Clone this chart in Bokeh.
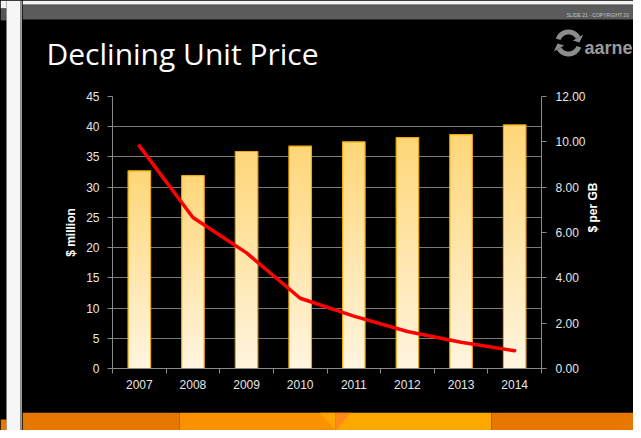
import math
import numpy as np
from bokeh.plotting import figure
from bokeh.layouts import row, column
from bokeh.models import Range1d, LinearAxis, FixedTicker, NumeralTickFormatter
from bokeh.core.properties import value
from bokeh.embed import file_html
from bokeh.resources import INLINE

# ---------------- data ----------------
years = [2007, 2008, 2009, 2010, 2011, 2012, 2013, 2014]
year_labels = ["2007", "2008", "2009", "2010", "2011", "2012", "2013", "2014"]
spend_million = [32.7, 31.9, 35.9, 36.8, 37.5, 38.2, 38.7, 40.3]
price_per_gb = [9.82, 6.66, 5.10, 3.10, 2.31, 1.63, 1.16, 0.78]
left_ticks = [0, 5, 10, 15, 20, 25, 30, 35, 40, 45]
right_ticks = [0, 2, 4, 6, 8, 10, 12]
title_text = "Declining Unit Price"
left_label = "$ million"
right_label = "$ per GB"
logo_text = "aarne"
footer_note = "SLIDE 21 - COPYRIGHT 20"

FONT = "Liberation Sans"
W, H = 633, 430
STRIP_W = 22
COL_W = W - STRIP_W
HEAD_H, MAIN_H, FOOT_H = 86, 326, 18


def deco(w, h):
    f = figure(width=w, height=h, output_backend="svg", toolbar_location=None,
               x_range=Range1d(0, w), y_range=Range1d(h, 0),
               x_axis_location=None, y_axis_location=None,
               min_border=0, min_border_left=0, min_border_right=0,
               min_border_top=0, min_border_bottom=0,
               outline_line_color=None, background_fill_color="black",
               border_fill_color="black", frame_align=False)
    f.xgrid.visible = False
    f.ygrid.visible = False
    return f


# ---------------- left window strip ----------------
strip = deco(STRIP_W, H)
strip.quad(left=[0, 0, 0, 6, 20], right=[6, 6, 6, 20, 22],
           top=[0, 8, 419, 0, 0], bottom=[8, 20, H, H, H],
           fill_color=["#f2f2f2", "#555555", "#e87700", "#f6f6f6", "#9c9c9c"],
           line_color=None)

# ---------------- header ----------------
head = deco(COL_W, HEAD_H)
head.quad(left=[0, 0, 0], right=[COL_W, COL_W, COL_W], top=[0, 4, 5], bottom=[4, 5, 19],
          fill_color=["#f2f2f2", "#a8a8a8", "#5b5b5b"], line_color=None)
head.text(x=[24], y=[53], text=[title_text], text_color="white",
          text_font=value("Open Sans"), text_font_size="30px",
          text_baseline="alphabetic")
# logo icon: two circling arrows
cx, cy, r_in, r_out = 546, 42.5, 8.5, 13.5
xs_icon, ys_icon = [], []
for a0, a1 in [(200, 330), (20, 150)]:
    ang = np.radians(np.linspace(a0, a1, 24))
    px = list(cx + r_out * np.cos(ang)) + list(cx + r_in * np.cos(ang[::-1]))
    py = list(cy + r_out * np.sin(ang)) + list(cy + r_in * np.sin(ang[::-1]))
    xs_icon.append(px)
    ys_icon.append(py)
    e = math.radians(a1)
    tip = math.radians(a1 + 28)
    rm = (r_in + r_out) / 2
    xs_icon.append([cx + (r_out + 3.5) * math.cos(e), cx + (r_in - 3.5) * math.cos(e),
                    cx + rm * math.cos(tip)])
    ys_icon.append([cy + (r_out + 3.5) * math.sin(e), cy + (r_in - 3.5) * math.sin(e),
                    cy + rm * math.sin(tip)])
head.patches(xs_icon, ys_icon, fill_color="#8c8c8c", line_color=None)
head.text(x=[562], y=[47], text=[logo_text], text_color="#9a9a9a",
          text_font=value("Liberation Sans"), text_font_size="18px",
          text_font_style="bold", text_baseline="alphabetic")
head.text(x=[544], y=[14], text=[footer_note], text_color="#c4c4c4",
          text_font=value("Liberation Sans"), text_font_size="5px",
          text_baseline="alphabetic")

# ---------------- footer ----------------
foot = deco(COL_W, FOOT_H)
foot.quad(left=[0, 157, 313, 469], right=[157, 313, 469, COL_W],
          top=[0, 0, 0, 0], bottom=[FOOT_H] * 4,
          fill_color=["#e67800", "#fa9200", "#ffa800", "#e87700"], line_color=None)
foot.patches([[297, 313, 313], [313.5, 328.5, 313.5]], [[0, 0, 18], [0, 0, 18]],
             fill_color=["#ffa600", "#ff8a1a"], line_color=None)

# ---------------- main chart ----------------
p = figure(width=COL_W, height=MAIN_H, output_backend="svg", toolbar_location=None,
           x_range=Range1d(2006.5, 2014.5), y_range=Range1d(0, 45),
           min_border_left=90, min_border_right=92, min_border_top=10,
           min_border_bottom=44, background_fill_color="black",
           border_fill_color="black", outline_line_color=None, frame_align=False)
p.extra_y_ranges = {"price": Range1d(0, 12)}

p.xgrid.visible = False
p.ygrid.ticker = FixedTicker(ticks=left_ticks)
p.ygrid.grid_line_color = "#7a7a7a"
p.ygrid.grid_line_width = 1

xa = p.xaxis[0]
xa.ticker = FixedTicker(ticks=years, minor_ticks=[y - 0.5 for y in years] + [years[-1] + 0.5])
xa.major_label_overrides = {y: s for y, s in zip(years, year_labels)}
xa.major_tick_line_color = None
xa.major_tick_out = 5
xa.minor_tick_out = 5
xa.minor_tick_in = 0
xa.minor_tick_line_color = "#8a8a8a"
xa.axis_line_color = "#8a8a8a"
xa.major_label_standoff = 6
xa.major_label_text_color = "#e6e6e6"
xa.major_label_text_font = FONT
xa.major_label_text_font_size = "12px"

ya = p.yaxis[0]
ya.ticker = FixedTicker(ticks=left_ticks)
ya.axis_line_color = "#8a8a8a"
ya.major_tick_line_color = "#8a8a8a"
ya.major_tick_out = 5
ya.major_tick_in = 0
ya.minor_tick_line_color = None
ya.major_label_standoff = 8
ya.major_label_text_color = "#e6e6e6"
ya.major_label_text_font = FONT
ya.major_label_text_font_size = "12px"
ya.axis_label = left_label
ya.axis_label_text_color = "white"
ya.axis_label_text_font = FONT
ya.axis_label_text_font_style = "bold"
ya.axis_label_text_font_size = "12px"
ya.axis_label_standoff = 5

ra = LinearAxis(y_range_name="price", ticker=FixedTicker(ticks=right_ticks),
                formatter=NumeralTickFormatter(format="0.00"))
ra.axis_line_color = "#8a8a8a"
ra.major_tick_line_color = "#8a8a8a"
ra.major_tick_out = 5
ra.major_tick_in = 0
ra.minor_tick_line_color = None
ra.major_label_standoff = 9
ra.major_label_text_color = "#e6e6e6"
ra.major_label_text_font = FONT
ra.major_label_text_font_size = "12px"
ra.axis_label = right_label
ra.axis_label_text_color = "white"
ra.axis_label_text_font = FONT
ra.axis_label_text_font_style = "bold"
ra.axis_label_text_font_size = "12px"
ra.axis_label_standoff = 4
try:
    ra.axis_label_orientation = math.pi / 2
except Exception:
    pass
p.add_layout(ra, "right")

# bars with a vertical gradient (drawn as slices of each bar)
BAR_W = 0.42
N = 30
c_top = np.array([0xff, 0xd7, 0x78])
c_bot = np.array([0xff, 0xf4, 0xe0])
xs, bots, tops, cols = [], [], [], []
for yr, v in zip(years, spend_million):
    for k in range(N):
        t = (k + 0.5) / N
        c = c_bot + (c_top - c_bot) * t
        xs.append(yr)
        bots.append(v * k / N)
        tops.append(min(v, v * (k + 1.4) / N))
        cols.append("#%02x%02x%02x" % tuple(int(round(q)) for q in c))
p.vbar(x=xs, bottom=bots, top=tops, width=BAR_W, fill_color=cols, line_color=None)
p.vbar(x=years, top=spend_million, width=BAR_W, fill_color=None,
       line_color="#ecab00", line_width=1.2)

p.line(years, price_per_gb, y_range_name="price", line_color="#ff0000",
       line_width=3.5, line_join="round", line_cap="round")

col = column(head, p, foot, spacing=0, styles={"background-color": "black"})
layout = row(strip, col, spacing=0, styles={"background-color": "black"})

open("out.html", "w").write(file_html(layout, INLINE))
